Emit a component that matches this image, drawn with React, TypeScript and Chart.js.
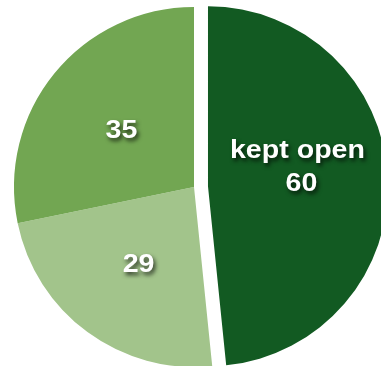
import React, { useEffect, useRef } from "react";
import { Chart, registerables } from "chart.js";

Chart.register(...registerables);

const categories = ["kept open", "", ""];
const values = [60, 29, 35];
const colors = ["#125a22", "#a2c48b", "#72a652"];
const explode = [14, 0, 0];

const explodePlugin = {
  id: "explodeSlices",
  beforeDatasetsDraw(chart: any) {
    const meta = chart.getDatasetMeta(0);
    meta.data.forEach((arc: any, i: number) => {
      const d = explode[i] || 0;
      if (!d || arc.$exploded) return;
      const mid = (arc.startAngle + arc.endAngle) / 2;
      arc.x += Math.cos(mid) * d;
      arc.y += Math.sin(mid) * d;
      arc.$exploded = true;
    });
  },
};

const labelPlugin = {
  id: "sliceLabels",
  afterDatasetsDraw(chart: any) {
    const ctx = chart.ctx;
    const meta = chart.getDatasetMeta(0);
    ctx.save();
    ctx.font = "bold 26px 'Liberation Sans', Arial, sans-serif";
    ctx.textAlign = "center";
    ctx.textBaseline = "middle";
    ctx.fillStyle = "#ffffff";
    ctx.shadowColor = "rgba(0,0,0,0.7)";
    ctx.shadowBlur = 4;
    ctx.shadowOffsetX = 2;
    ctx.shadowOffsetY = 3;
    const draw = (t: string, x: number, y: number) => {
      ctx.save();
      ctx.translate(x, y);
      ctx.scale(1.1, 1);
      ctx.fillText(t, 0, 0);
      ctx.restore();
    };
    meta.data.forEach((arc: any, i: number) => {
      const { startAngle, endAngle, outerRadius, x, y } = arc;
      const mid = (startAngle + endAngle) / 2;
      const r = outerRadius * 0.52;
      const px = x + Math.cos(mid) * r;
      const py = y + Math.sin(mid) * r + 2.5;
      const name = categories[i];
      if (name) {
        draw(name, px - 4, py - 33);
      }
      draw(String(values[i]), px, py);
    });
    ctx.restore();
  },
};

export default function App() {
  const ref = useRef<HTMLCanvasElement>(null);
  useEffect(() => {
    if (!ref.current) return;
    const chart = new Chart(ref.current, {
      type: "pie",
      data: {
        labels: categories,
        datasets: [
          {
            data: values,
            backgroundColor: colors,
            borderWidth: 0,
          },
        ],
      },
      options: {
        responsive: false,
        animation: false,
        radius: 180,
        layout: { padding: 0 },
        plugins: {
          legend: { display: false },
          tooltip: { enabled: false },
        },
        events: [],
      } as any,
      plugins: [explodePlugin, labelPlugin],
    });
    return () => chart.destroy();
  }, []);
  return (
    <div
      style={{
        position: "absolute",
        left: 0,
        top: 0,
        width: 381,
        height: 366,
        overflow: "hidden",
        background: "#ffffff",
      }}
    >
      <canvas ref={ref} width={388} height={374} style={{ display: "block" }} />
    </div>
  );
}
